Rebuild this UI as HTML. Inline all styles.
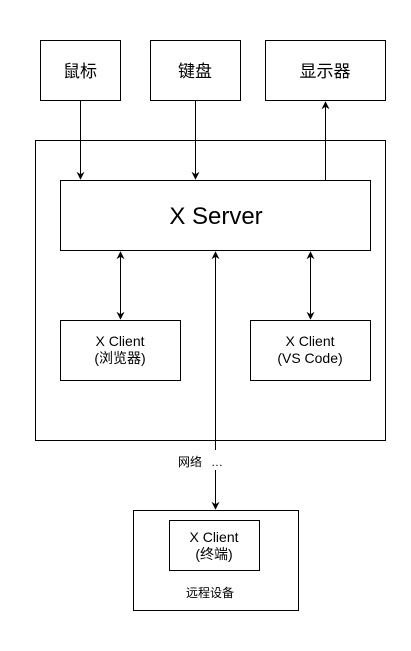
<!DOCTYPE html>
<html><head><meta charset="utf-8"><style>
html,body{margin:0;padding:0;background:#fff;}
svg{display:block;}
text{font-family:"Liberation Sans","Noto Sans CJK SC",sans-serif;fill:#000;}
</style></head><body>
<svg width="411" height="651" viewBox="0 0 411 651" xmlns="http://www.w3.org/2000/svg">
<defs>
<marker id="a" viewBox="0 0 10 10" refX="9" refY="5" markerWidth="8" markerHeight="8" orient="auto-start-reverse" markerUnits="userSpaceOnUse"><path d="M0,0 L10,5 L0,10 L3,5 z" fill="#000"/></marker>
</defs>
<g fill="none" stroke="#000" stroke-width="1">
<rect x="40.5" y="40.5" width="80" height="60"/>
<rect x="150.5" y="40.5" width="90" height="60"/>
<rect x="265.5" y="40.5" width="120" height="60"/>
<rect x="35.5" y="140.5" width="350" height="300"/>
<rect x="60.5" y="180.5" width="310" height="70"/>
<rect x="60.5" y="320.5" width="120" height="60"/>
<rect x="250.5" y="320.5" width="120" height="60"/>
<rect x="133.5" y="510.5" width="165" height="100"/>
<rect x="169.5" y="520.5" width="90" height="50"/>
<line x1="80.5" y1="101" x2="80.5" y2="179" marker-end="url(#a)"/>
<line x1="195.5" y1="101" x2="195.5" y2="179" marker-end="url(#a)"/>
<line x1="325.5" y1="180" x2="325.5" y2="102" marker-end="url(#a)"/>
<line x1="120.5" y1="252" x2="120.5" y2="319" marker-start="url(#a)" marker-end="url(#a)"/>
<line x1="310.5" y1="252" x2="310.5" y2="319" marker-start="url(#a)" marker-end="url(#a)"/>
<line x1="215.5" y1="450" x2="215.5" y2="252" marker-end="url(#a)"/>
<line x1="215.5" y1="470" x2="215.5" y2="509" marker-end="url(#a)"/>
</g>
<g text-anchor="middle">
<text x="80" y="77" font-size="17">鼠标</text>
<text x="195" y="77" font-size="17">键盘</text>
<text x="325" y="77" font-size="17">显示器</text>
<text x="216" y="224" font-size="24">X Server</text>
<text x="120" y="346" font-size="14">X Client</text>
<text x="120" y="363" font-size="14">(浏览器)</text>
<text x="310" y="346" font-size="14">X Client</text>
<text x="310" y="363" font-size="14">(VS Code)</text>
<text x="214" y="542" font-size="14">X Client</text>
<text x="214" y="559" font-size="14">(终端)</text>
<text x="210" y="597" font-size="12">远程设备</text>
<text x="190" y="466" font-size="12">网络</text>
<text x="217" y="466" font-size="12">…</text>
</g>
</svg>
</body></html>
